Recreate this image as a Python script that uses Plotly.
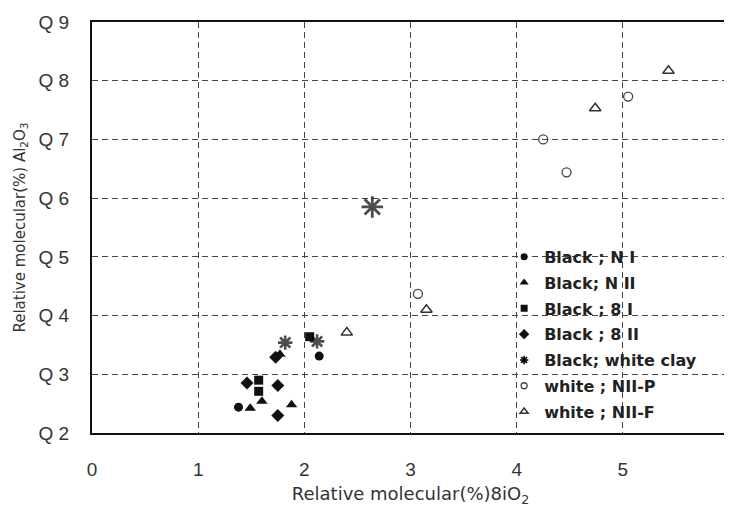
import plotly.graph_objects as go

# ---- data ----
black_n1_x = [1.38, 2.14]
black_n1_y = [0.244, 0.331]

black_n2_x = [1.49, 1.60, 1.88, 1.77]
black_n2_y = [0.242, 0.254, 0.248, 0.334]

black_s1_x = [1.57, 1.57, 2.05]
black_s1_y = [0.290, 0.271, 0.364]

black_s2_x = [1.46, 1.75, 1.75, 1.73]
black_s2_y = [0.285, 0.281, 0.230, 0.329]

black_clay_x = [1.82, 2.12, 2.64]
black_clay_y = [0.354, 0.356, 0.585]

white_p_x = [3.07, 4.25, 4.47, 5.05]
white_p_y = [0.437, 0.700, 0.644, 0.773]

white_f_x = [2.40, 3.15, 4.74, 5.43]
white_f_y = [0.371, 0.410, 0.753, 0.817]

names = ["Black ; N I", "Black; N II", "Black ; 8 I", "Black ; 8 II",
         "Black; white clay", "white ; NII-P", "white ; NII-F"]

y_tickvals = [0.2, 0.3, 0.4, 0.5, 0.6, 0.7, 0.8, 0.9]
y_ticktext = ["Q 2", "Q 3", "Q 4", "Q 5", "Q 6", "Q 7", "Q 8", "Q 9"]
x_tickvals = [0, 1, 2, 3, 4, 5, 6]

x_title = "Relative molecular(%)8iO<sub>2</sub>"
y_title = "Relative molecular(%) Al<sub>2</sub>O<sub>3</sub>"

# ---- figure ----
fig = go.Figure()
series = [
    (black_n1_x, black_n1_y, "circle", 9, "#111", 0, 7),
    (black_n2_x, black_n2_y, "triangle-up", 10, "#111", 0, 8),
    (black_s1_x, black_s1_y, "square", 9, "#111", 0, 7),
    (black_s2_x, black_s2_y, "diamond", 10, "#111", 0, 8),
    (black_clay_x, black_clay_y, "asterisk-open", [12, 12, 18], "#000", [2.6, 2.6, 2.8], 7),
    (white_p_x, white_p_y, "circle-open", 9, "#444", 1.3, 6),
    (white_f_x, white_f_y, "triangle-up-open", 10, "#333", 1.5, 7),
]
for i, (xs, ys, sym, size, col, lw, lsize) in enumerate(series):
    fig.add_trace(go.Scatter(
        x=xs, y=ys, mode="markers", name=names[i], showlegend=False,
        marker=dict(symbol=sym, size=size, color=col,
                    line=dict(color=col, width=lw)),
    ))
for i, (xs, ys, sym, size, col, lw, lsize) in enumerate(series):
    lw1 = lw if not isinstance(lw, list) else 1.6
    fig.add_trace(go.Scatter(
        x=[None], y=[None], mode="markers", name=names[i],
        legendgroup=f"g{i}", showlegend=True,
        marker=dict(symbol=sym, size=lsize, color=col,
                    line=dict(color=col, width=min(lw1, 1.6))),
    ))

grid = dict(showgrid=True, gridcolor="#444", griddash="6px,4px", gridwidth=1.2,
            showline=True, linecolor="#111", linewidth=2, mirror=True,
            zeroline=False, ticks="", automargin=False)

# the page adds an 8px body margin, so the figure is 8px smaller each way
fig.update_layout(
    width=724, height=501,
    margin=dict(l=84, r=3, t=14, b=76),
    paper_bgcolor="white", plot_bgcolor="white",
    font=dict(family="DejaVu Sans", color="#222"),
    showlegend=True,
    legend=dict(x=0.647, y=0.470, xanchor="left", yanchor="top",
                bgcolor="rgba(255,255,255,0)", borderwidth=0,
                font=dict(size=16, family="DejaVu Sans", color="#222",
                          weight="bold"),
                tracegroupgap=2, itemwidth=30),
    xaxis=dict(range=[0, 6], tickvals=x_tickvals, ticklabelstandoff=18,
               tickfont=dict(size=19, family="Liberation Sans", color="#333"),
               title=dict(text=x_title,
                          font=dict(size=18, family="DejaVu Sans", color="#333"),
                          standoff=9),
               **grid),
    yaxis=dict(range=[0.2, 0.9], tickvals=y_tickvals, ticktext=y_ticktext,
               ticklabelstandoff=17,
               tickfont=dict(size=19, family="Liberation Sans", color="#333"),
               title=dict(text=y_title,
                          font=dict(size=15, family="DejaVu Sans", color="#333"),
                          standoff=9),
               **grid),
)

fig.write_html("out.html")
